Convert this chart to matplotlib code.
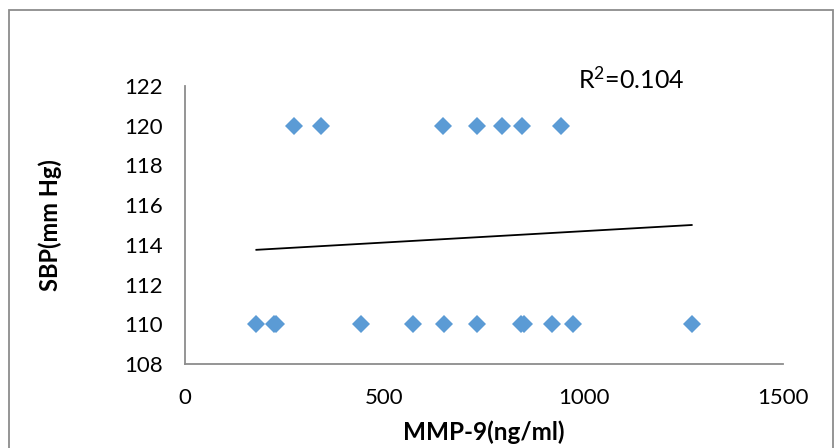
import numpy as np
import matplotlib
matplotlib.use("Agg")
import matplotlib.pyplot as plt
from matplotlib.patches import Rectangle

plt.rcParams['font.family'] = ['Lato', 'DejaVu Sans']
plt.rcParams['mathtext.fontset'] = 'custom'
plt.rcParams['mathtext.rm'] = 'Lato'
plt.rcParams['mathtext.it'] = 'Lato'

# MMP-9 (ng/ml) vs SBP (mm Hg)
mmp9_high = [274, 341, 648, 733, 795, 845, 944]
sbp_high = [120, 120, 120, 120, 120, 120, 120]
mmp9_low = [179, 222, 229, 441, 571, 650, 733, 843, 851, 920, 974, 1271]
sbp_low = [110, 110, 110, 110, 110, 110, 110, 110, 110, 110, 110, 110]

# trendline ends as drawn in the picture
trend_x = [179, 1271]
trend_y = [113.75, 115.0]
r2_label = "R$^2$=0.104"

x = np.array(mmp9_high + mmp9_low, dtype=float)
y = np.array(sbp_high + sbp_low, dtype=float)

fig = plt.figure(figsize=(8.37, 4.48), dpi=100)
ax = fig.add_axes([185 / 837, 1 - 364 / 448, (783 - 185) / 837, (364 - 86) / 448])

ax.plot(x, y, linestyle='none', marker='D', markersize=9.5, color='#5B9BD5',
        markeredgewidth=0, zorder=3)
ax.plot(trend_x, trend_y, color='black', linewidth=1.3, zorder=2)

ax.set_xlim(0, 1500)
ax.set_ylim(108, 122)
ax.set_xticks([0, 500, 1000, 1500])
ax.set_yticks(range(108, 123, 2))
ax.tick_params(length=0, labelsize=16, colors='black')
ax.tick_params(axis='x', pad=17)
ax.tick_params(axis='y', pad=16)

for s in ['top', 'right']:
    ax.spines[s].set_visible(False)
for s in ['left', 'bottom']:
    ax.spines[s].set_color('#8c8c8c')
    ax.spines[s].set_linewidth(1.3)

ax.set_xlabel("MMP-9(ng/ml)", fontsize=17.5, fontweight='bold', va='center')
ax.set_ylabel("SBP(mm Hg)", fontsize=17, fontweight='bold', va='center')
ax.xaxis.set_label_coords(0.5, -0.245)
ax.yaxis.set_label_coords(-0.226, 0.5)

ax.text(0.657, 1.025, r2_label, transform=ax.transAxes, fontsize=18,
        ha='left', va='center')

# chart area border
fig.patches.append(Rectangle((9 / 837, -0.05), (833 - 9) / 837, 1.05 - 10 / 448,
                             transform=fig.transFigure, fill=False,
                             edgecolor='#8c8c8c', linewidth=1.3))

fig.savefig("out.png", dpi=100)
